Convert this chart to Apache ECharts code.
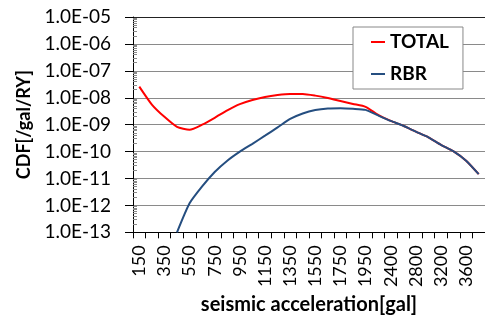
<!DOCTYPE html>
<html>
<head>
<meta charset="utf-8">
<script src="https://cdn.jsdelivr.net/npm/echarts@6/dist/echarts.min.js"></script>
<style>html,body{margin:0;padding:0;background:#fff;}#c{width:485px;height:320px;}</style>
</head>
<body>
<div id="c"></div>
<script>
var categories = ['150','250','350','450','550','650','750','850','950','1050','1150','1250','1350','1450','1550','1650','1750','1850','1950','2200','2400','2600','2800','3000','3200','3400','3600','3800'];
var totalValues = [2.6e-8, 5.6e-9, 1.95e-9, 8.3e-10, 6.5e-10, 1.0e-9, 1.8e-9, 3.4e-9, 5.8e-9, 8.3e-9, 1.07e-8, 1.26e-8, 1.38e-8, 1.38e-8, 1.2e-8, 9.8e-9, 7.6e-9, 5.9e-9, 4.6e-9, 2.3e-9, 1.38e-9, 9.1e-10, 5.5e-10, 3.4e-10, 1.78e-10, 1.02e-10, 4.6e-11, 1.45e-11];
var rbrValues = [null, null, null, 1.0e-13, 1.2e-12, 5.1e-12, 1.75e-11, 4.6e-11, 1.0e-10, 1.94e-10, 3.9e-10, 7.9e-10, 1.63e-9, 2.6e-9, 3.5e-9, 4.0e-9, 4.1e-9, 3.9e-9, 3.55e-9, 2.2e-9, 1.38e-9, 9.1e-10, 5.5e-10, 3.4e-10, 1.78e-10, 1.02e-10, 4.6e-11, 1.45e-11];
var seriesNames = ['TOTAL', 'RBR'];
var yMin = 1e-13, yMax = 1e-5;
var xTitle = 'seismic acceleration[gal]';
var yTitle = 'CDF[/gal/RY]';

var FONT = 'Lato';
function fmt(v){
  var e = Math.round(Math.log10(v));
  var s = Math.abs(e) < 10 ? '0' + Math.abs(e) : '' + Math.abs(e);
  return '1.0E' + (e < 0 ? '-' : '+') + s;
}
var minorVals = [];
for (var e = Math.round(Math.log10(yMin)); e < Math.round(Math.log10(yMax)); e++) {
  for (var k = 2; k <= 9; k++) minorVals.push(e + Math.log10(k));
}
var splitColors = ['#8a8a8a','#8a8a8a','#8a8a8a','#8a8a8a','#8a8a8a','#8a8a8a','#8a8a8a','#8a8a8a','#222'];
var chart = echarts.init(document.getElementById('c'), null, {renderer: 'canvas'});
chart.setOption({
  animation: false,
  textStyle: {fontFamily: FONT},
  grid: {left: 133, right: 0, top: 17, bottom: 83},
  legend: {
    orient: 'vertical', left: 353, top: 27,
    padding: [5, 14, 5, 18], itemGap: 12,
    backgroundColor: '#fff', borderColor: '#888', borderWidth: 1,
    icon: 'rect', itemWidth: 14, itemHeight: 2,
    textStyle: {fontFamily: FONT, fontWeight: 'bold', fontSize: 19, color: '#000', lineHeight: 20},
    data: seriesNames
  },
  xAxis: {
    type: 'category', data: categories, boundaryGap: true,
    name: xTitle, nameLocation: 'middle', nameGap: 60,
    nameTextStyle: {fontFamily: FONT, fontWeight: 'bold', fontSize: 20, color: '#000'},
    axisLine: {lineStyle: {color: '#000', width: 1}},
    axisTick: {show: true, interval: 0, length: 6, lineStyle: {color: '#000'}},
    axisLabel: {interval: 1, rotate: 90, margin: 13, fontFamily: FONT, fontSize: 18, color: '#000'},
    splitLine: {show: false}
  },
  yAxis: [{
    type: 'log', logBase: 10, min: yMin, max: yMax, interval: 1,
    name: yTitle, nameLocation: 'middle', nameGap: 98,
    nameTextStyle: {fontFamily: FONT, fontWeight: 'bold', fontSize: 18, color: '#000'},
    axisLine: {show: true, lineStyle: {color: '#000', width: 1}},
    axisTick: {show: true, length: 8, lineStyle: {color: '#000'}},
    axisLabel: {margin: 22, fontFamily: FONT, fontSize: 19, color: '#000', formatter: fmt},
    splitLine: {show: true, lineStyle: {color: splitColors, width: 1}}
  }, {
    type: 'value', min: Math.log10(yMin), max: Math.log10(yMax), position: 'left', offset: 0,
    axisLine: {show: false},
    axisTick: {show: true, inside: true, length: 4, customValues: minorVals, lineStyle: {color: '#888'}},
    axisLabel: {show: false},
    splitLine: {show: false}
  }],
  series: [{
    name: seriesNames[0], type: 'line', data: totalValues, yAxisIndex: 0,
    symbol: 'none', smooth: 0.2, lineStyle: {color: '#ff0000', width: 2}, itemStyle: {color: '#ff0000'}
  }, {
    name: seriesNames[1], type: 'line', data: rbrValues, yAxisIndex: 0,
    symbol: 'none', smooth: 0.2, lineStyle: {color: '#254e80', width: 2}, itemStyle: {color: '#254e80'}
  }]
});
</script>
</body>
</html>
